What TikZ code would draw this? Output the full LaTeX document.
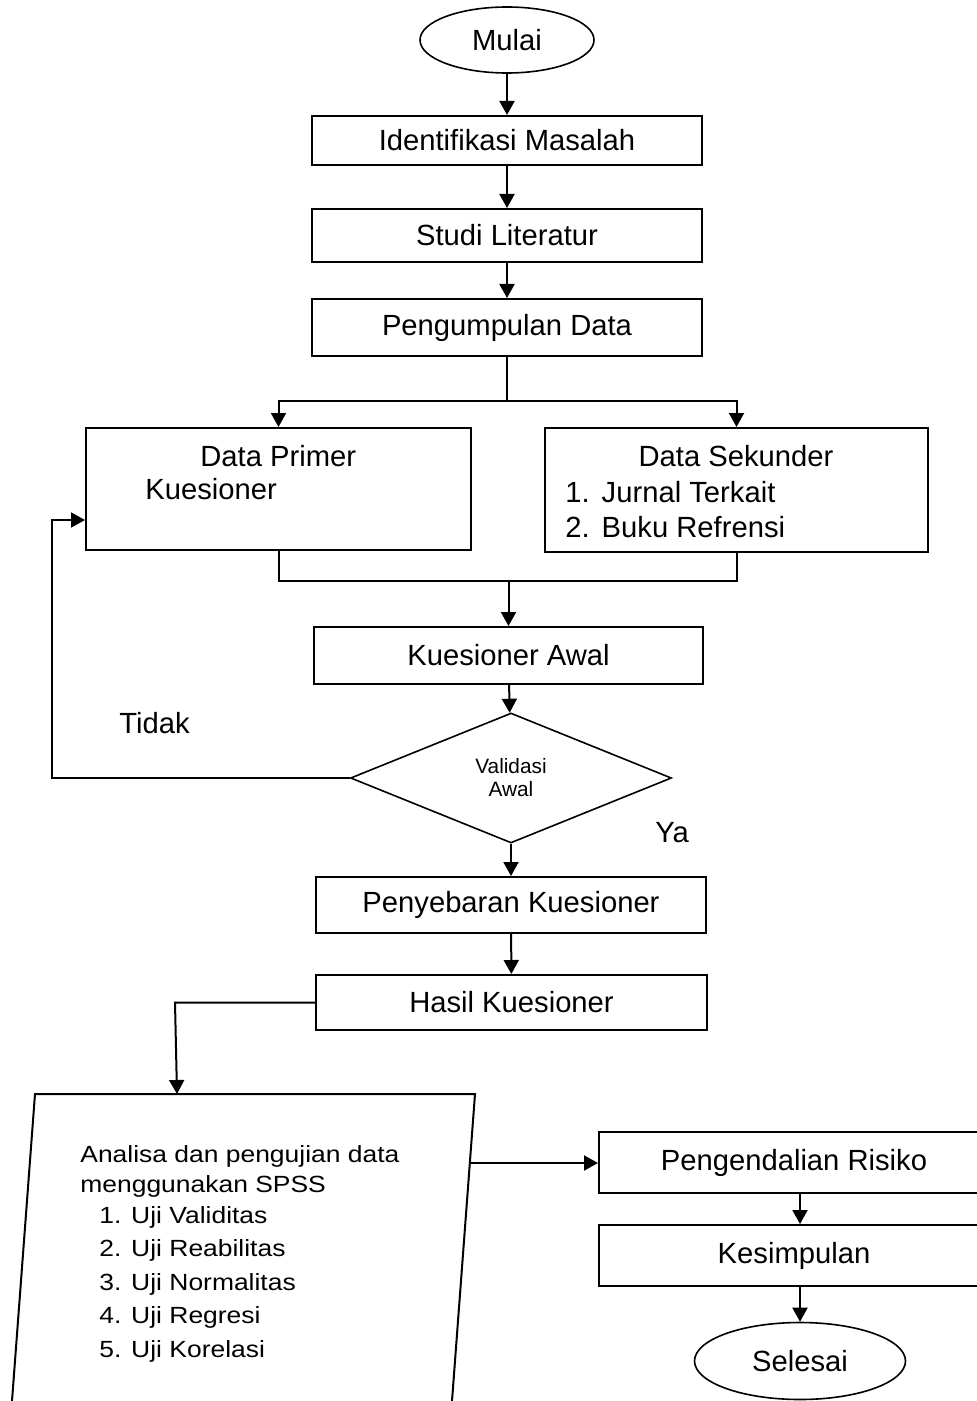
\documentclass[tikz,border=0pt]{standalone}
\usepackage{fontspec}
\setmainfont{Liberation Sans}
\usetikzlibrary{shapes.geometric,arrows.meta}

\newcommand{\besar}{\fontsize{14.6}{17.5}\selectfont}
\newcommand{\kecil}{\fontsize{11.7}{14}\selectfont}
\newcommand{\kecilsekali}{\fontsize{10.4}{11.5}\selectfont}
\newcommand{\lebar}[1]{\scalebox{1.13}[1]{#1}}

\tikzset{
  kotak/.style={draw, line width=1pt, minimum width=195pt, inner sep=0pt, font=\besar},
  ujung/.style={ellipse, draw, line width=0.8pt, inner sep=0pt, font=\besar},
  belah/.style={diamond, draw, line width=0.8pt, aspect=2.47, inner sep=0pt, align=center, font=\kecilsekali},
  teks/.style={inner sep=0pt, font=\besar},
  garis/.style={line width=1pt},
  panah/.style={line width=1pt, -{Triangle[length=7pt,width=7.5pt]}}
}

\begin{document}
\begin{tikzpicture}[x=0.5pt,y=-0.5pt]
  \useasboundingbox (0,0) rectangle (977,1401);

  % Start
  \node[ujung, minimum width=87pt, minimum height=33pt] (mulai) at (507,40) {Mulai};

  % Boxes
  \node[kotak, minimum height=24.5pt] (identifikasi) at (507,140.5) {Identifikasi Masalah};
  \node[kotak, minimum height=26.5pt] (studi) at (507,235.5) {Studi Literatur};
  \node[kotak, minimum height=28.5pt] (pengumpulan) at (507,327.5) {Pengumpulan Data};

  \draw[panah] (mulai) -- (identifikasi);
  \draw[panah] (identifikasi) -- (studi);
  \draw[panah] (studi) -- (pengumpulan);

  % Data
  \node[kotak, minimum width=192.5pt, minimum height=61pt] (primer) at (278.5,489) {};
  \node[kotak, minimum width=191.5pt, minimum height=62pt] (sekunder) at (736.5,490) {};
  \node[teks, anchor=base west] (primerjudul) at (200,466) {Data Primer};
  \node[teks, anchor=base west] (primerisi) at (145,499) {Kuesioner};
  \node[teks, anchor=base] (sekunderjudul) at (736,466) {Data Sekunder};
  \node[teks, anchor=base west] (jurnal) at (565,502) {1.\hspace{6pt}Jurnal Terkait};
  \node[teks, anchor=base west] (buku) at (565,537) {2.\hspace{6pt}Buku Refrensi};

  \draw[garis] (pengumpulan.south) -- ++(0,44) coordinate (cabang);
  \draw[panah] (cabang) -| (primer.north);
  \draw[panah] (cabang) -| (sekunder.north);

  \node[kotak, minimum width=194.5pt, minimum height=28.5pt] (awal) at (508.5,655.5) {Kuesioner Awal};

  \draw[garis] (primer.south) -- ++(0,30) coordinate (gabung) -| (sekunder.south);
  \draw[panah] (gabung -| awal.north) -- (awal.north);

  % Decision
  \node[belah, minimum width=160.5pt, minimum height=65pt] (validasi) at (511,778) {Validasi\\Awal};
  \draw[panah] (awal) -- (validasi);

  \node[teks, anchor=base west] (tidak) at (119,733) {Tidak};
  \node[teks, anchor=base west] (ya) at (655,842) {Ya};

  \draw[panah] (validasi.west) -- (52,778 -| 52,0) |- ([yshift=-15.5pt]primer.west);

  \node[kotak, minimum height=28pt] (penyebaran) at (511,905) {Penyebaran Kuesioner};
  \node[kotak, minimum width=195.5pt, minimum height=27.5pt] (hasil) at (511.5,1002.5) {Hasil Kuesioner};

  \draw[panah] (validasi) -- (penyebaran);
  \draw[panah] (penyebaran) -- (hasil);

  % Analysis
  \coordinate (analisaatas) at (177,1094);
  \coordinate (analisakanan) at (470,1163);
  \draw[garis] (12,1401) -- (35,1094) -- (475,1094) -- (452,1401);
  \draw[panah] (hasil.west) -- (175,1002.5) -- (analisaatas);

  \node[teks, anchor=base west, font=\kecil] (analisa) at (80,1162) {\lebar{Analisa dan pengujian data}};
  \node[teks, anchor=base west, font=\kecil] (spss) at (80,1192) {\lebar{menggunakan SPSS}};
  \foreach \n/\isi [count=\i from 0] in {1/Validitas, 2/Reabilitas, 3/Normalitas, 4/Regresi, 5/Korelasi}
    \node[teks, anchor=base west, font=\kecil] (uji\n) at (99,1223+33.5*\i) {\lebar{\n. Uji \isi}};

  % End
  \node[kotak, minimum height=30.5pt] (pengendalian) at (794,1162.5) {Pengendalian Risiko};
  \node[kotak, minimum height=30.5pt] (kesimpulan) at (794,1255.5) {Kesimpulan};
  \node[ujung, minimum width=105.5pt, minimum height=38.5pt] (selesai) at (800,1361) {Selesai};

  \draw[panah] (analisakanan) -- (analisakanan -| pengendalian.west);
  \draw[panah] (pengendalian.south -| selesai) -- (kesimpulan.north -| selesai);
  \draw[panah] (kesimpulan.south -| selesai) -- (selesai);
\end{tikzpicture}
\end{document}
